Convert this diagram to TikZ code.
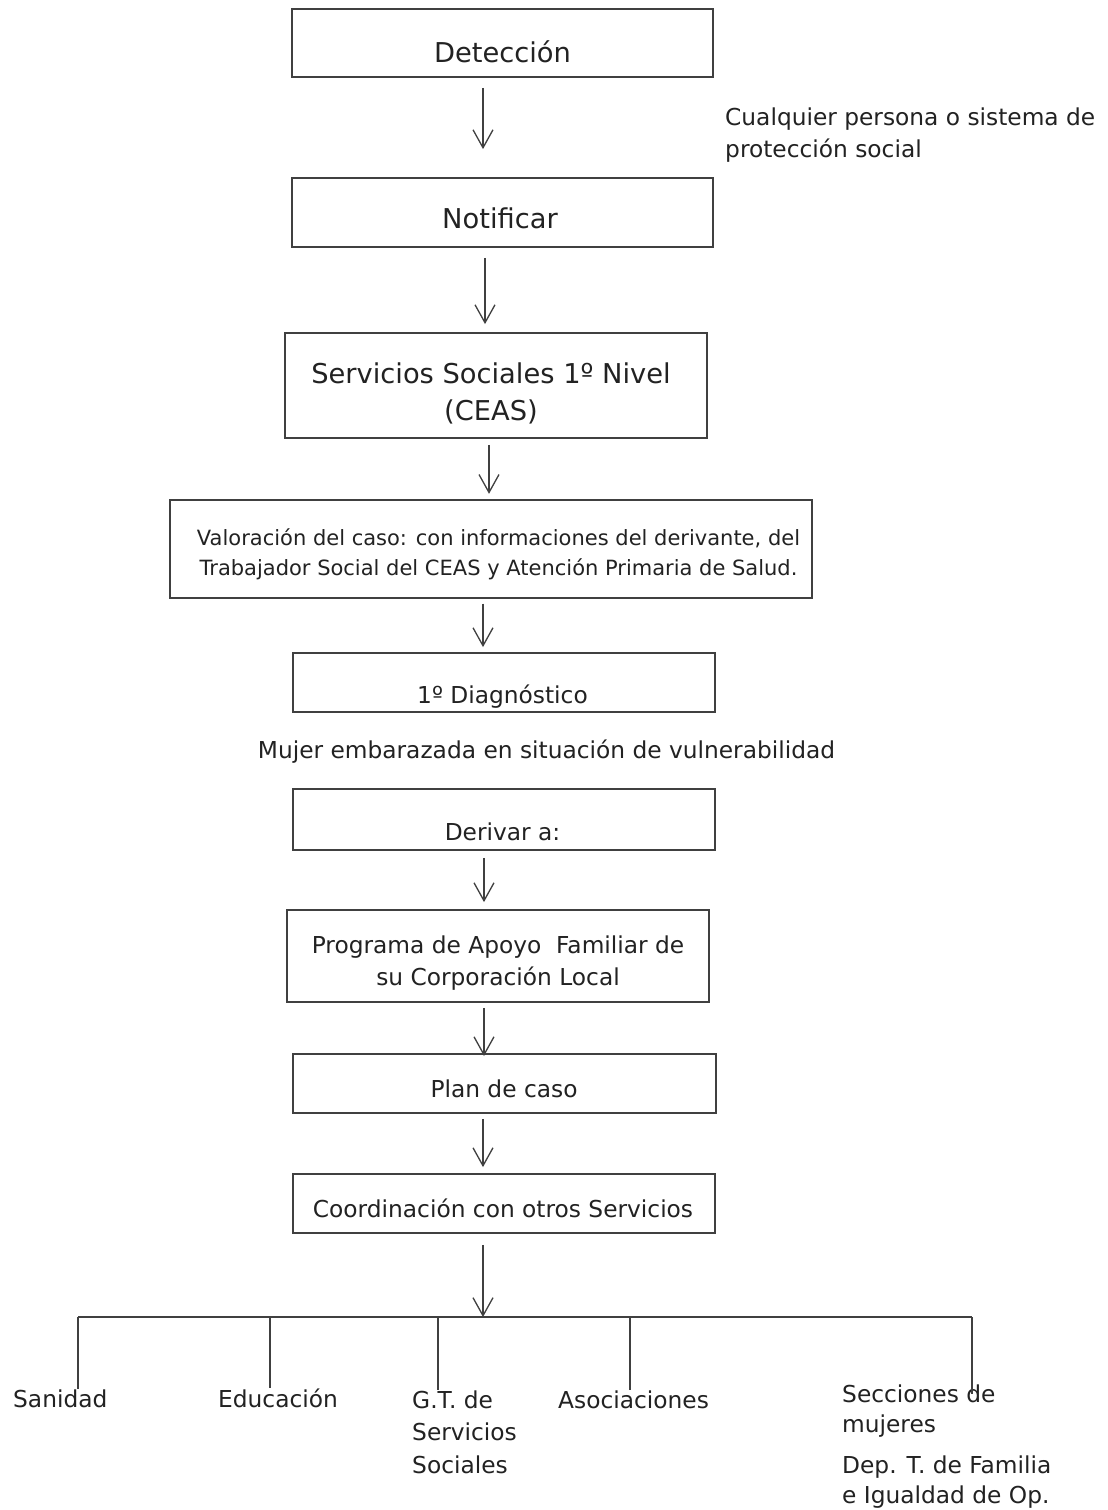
\documentclass[tikz,border=0pt]{standalone}
\usepackage{fontspec}
\setmainfont{DejaVu Sans}
\usetikzlibrary{arrows.meta}
\definecolor{ink}{HTML}{222222}
\definecolor{edge}{HTML}{404040}
\newcommand{\mlc}[1]{\vtop{\halign{\hfil##\hfil\cr#1\crcr}}}
\newcommand{\mll}[1]{\vtop{\halign{##\hfil\cr#1\crcr}}}
\begin{document}
\begin{tikzpicture}[x=1pt,y=-1pt,
  box/.style={draw=edge, line width=1.8pt, rectangle, inner sep=0pt},
  big/.style={font=\fontsize{27.3}{37}\selectfont, text=ink, inner sep=0pt},
  txt/.style={font=\fontsize{23.3}{32.5}\selectfont, text=ink, inner sep=0pt},
  sml/.style={font=\fontsize{21}{30}\selectfont, text=ink, inner sep=0pt},
  arr/.style={draw=edge, line width=1.3pt, -{Straight Barb[length=18pt,width=20pt]}},
  bus/.style={draw=edge, line width=1.8pt}]
\path[use as bounding box, fill=white] (0,0) rectangle (1108,1510);

% boxes
\node[box, minimum width=421pt, minimum height=68pt] (det) at (502.5,43) {};
\node[box, minimum width=421pt, minimum height=69pt] (not) at (502.5,212.5) {};
\node[box, minimum width=422pt, minimum height=105pt] (ss) at (496,385.5) {};
\node[box, minimum width=642pt, minimum height=97.5pt] (val) at (491,549) {};
\node[box, minimum width=422pt, minimum height=59pt] (diag) at (504,682.5) {};
\node[box, minimum width=422pt, minimum height=61pt] (der) at (504,819.5) {};
\node[box, minimum width=422pt, minimum height=92pt] (prog) at (498,956) {};
\node[box, minimum width=423pt, minimum height=59pt] (plan) at (504.5,1083.5) {};
\node[box, minimum width=422pt, minimum height=59pt] (coord) at (504,1203.5) {};

% box texts
\node[big, anchor=base] (tdet) at (502.5,62) {Detección};
\node[big, anchor=base] (tnot) at (500,228) {Notificar};
\node[big, anchor=base] (tss) at (491,383) {\mlc{Servicios Sociales 1º Nivel\cr (CEAS)}};
\node[sml, anchor=base] (tval) at (498.5,545) {\mlc{Valoración del caso: con informaciones del derivante, del\cr Trabajador Social del CEAS y Atención Primaria de Salud.}};
\node[txt, anchor=base] (tdiag) at (502.5,703) {1º Diagnóstico};
\node[txt, anchor=base] (tmuj) at (546.5,758) {Mujer embarazada en situación de vulnerabilidad};
\node[txt, anchor=base] (tder) at (502.5,840) {Derivar a:};
\node[txt, anchor=base] (tprog) at (498,953) {\mlc{Programa de Apoyo\ \ Familiar de\cr su Corporación Local}};
\node[txt, anchor=base] (tplan) at (504,1097) {Plan de caso};
\node[txt, anchor=base] (tcoord) at (503,1217) {Coordinación con otros Servicios};
\node[txt, anchor=base west] (tcual) at (725,125) {\mll{Cualquier persona o sistema de\cr protección social}};

% arrows
\draw[arr] ([xshift=-19.5pt,yshift=-10pt]det.south) -- ([xshift=-19.5pt,yshift=28pt]not.north);
\draw[arr] ([xshift=-17.5pt,yshift=-10pt]not.south) -- ([xshift=-11pt,yshift=8pt]ss.north);
\draw[arr] ([xshift=-7pt,yshift=-6pt]ss.south) -- ([xshift=-2pt,yshift=5.5pt]val.north);
\draw[arr] ([xshift=-8pt,yshift=-5pt]val.south) -- ([xshift=-21pt,yshift=5pt]diag.north);
\draw[arr] ([xshift=-20pt,yshift=-7pt]der.south) -- ([xshift=-14pt,yshift=7pt]prog.north);
\draw[arr] ([xshift=-14pt,yshift=-5pt]prog.south) -- ([xshift=-20.5pt,yshift=-3pt]plan.north);
\draw[arr] ([xshift=-21.5pt,yshift=-5pt]plan.south) -- ([xshift=-21pt,yshift=6pt]coord.north);

% bottom labels
\node[txt, anchor=base west] (san) at (13,1407) {Sanidad};
\node[txt, anchor=base west] (edu) at (218,1407) {Educación};
\node[txt, anchor=base west] (gt) at (412,1408) {\mll{G.T. de\cr Servicios\cr Sociales}};
\node[txt, anchor=base west] (aso) at (558,1408) {Asociaciones};
\node[txt, font=\fontsize{23.3}{30}\selectfont, anchor=base west] (sec) at (842,1402) {\mll{Secciones de\cr mujeres\cr\noalign{\vskip 11pt}Dep. T. de Familia\cr e Igualdad de Op.}};

% bus
\coordinate (busL) at (78,1317);
\coordinate (busR) at (972,1317);
\coordinate (busA) at (483,1317);
\coordinate (bE) at (270,1317);
\coordinate (bG) at (438,1317);
\coordinate (bA) at (630,1317);
\draw[arr] ([xshift=-21pt,yshift=-11pt]coord.south) -- (busA);
\draw[bus] (busL) -- (busR);
\draw[bus] (busL) -- (busL |- san.north);
\draw[bus] (bE) -- (bE |- edu.north);
\draw[bus] (bG) -- (bG |- gt.north);
\draw[bus] (bA) -- (bA |- aso.north);
\draw[bus] (busR) -- ([yshift=-10pt]busR |- sec.north);
\end{tikzpicture}
\end{document}
